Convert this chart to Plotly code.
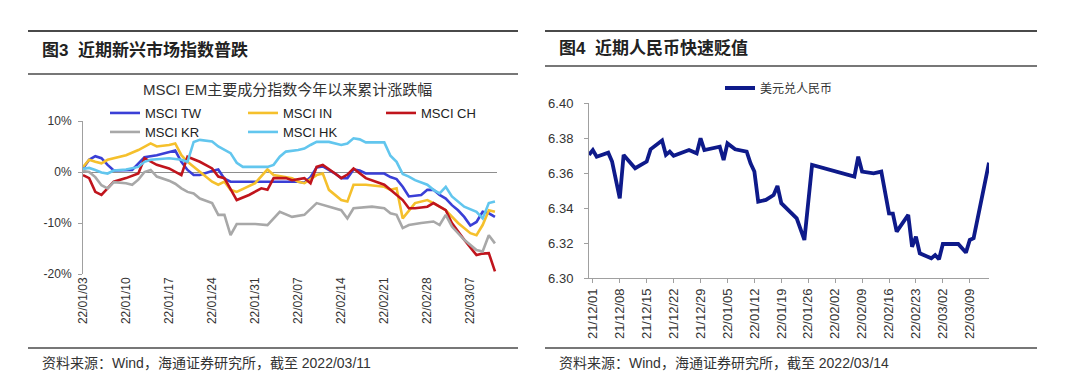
import plotly.graph_objects as go

# ---------------- Figure 3: MSCI EM component indices, YTD cumulative change (%) ----------------
TW_DATES = ["01-03", "01-04", "01-05", "01-06", "01-07", "01-08", "01-11", "01-12", "01-13", "01-15",
            "01-17", "01-18", "01-19", "01-20", "01-21", "01-22", "01-24", "01-25", "01-26", "01-27",
            "02-06", "02-07", "02-08", "02-09", "02-10", "02-11", "02-13", "02-14", "02-15", "02-16",
            "02-17", "02-18", "02-21", "02-22", "02-23", "02-24", "02-25", "02-27", "02-28", "03-01",
            "03-02", "03-03", "03-04", "03-05", "03-06", "03-07", "03-08", "03-09", "03-10", "03-11"]
TW_VALUES = [0.7, 2.4, 3.1, 2.7, 1.4, 0.3, 0.4, 1.7, 2.9, 3.3,
             3.8, 4.2, 2.0, 0.4, -0.6, -0.6, 0.2, 0.5, -1.3, -1.9,
             -1.9, -1.9, -2.1, -1.0, 0.9, 1.1, -0.3, -1.2, -1.2, 0.5,
             0.3, -0.3, -0.3, -1.0, -1.4, -2.9, -4.8, -4.5, -3.5, -3.5,
             -4.5, -5.2, -6.5, -7.5, -8.8, -10.5, -9.8, -7.8, -8.1, -8.8]

IN_DATES = ["01-03", "01-04", "01-05", "01-06", "01-07", "01-10", "01-12", "01-14", "01-15", "01-17",
            "01-18", "01-19", "01-20", "01-21", "01-22", "01-24", "01-25", "01-26", "01-27", "01-28",
            "01-31", "02-02", "02-03", "02-06", "02-07", "02-08", "02-10", "02-11", "02-12", "02-14",
            "02-15", "02-16", "02-18", "02-21", "02-22", "02-23", "02-24", "02-25", "02-26", "02-28",
            "03-01", "03-03", "03-05", "03-07", "03-08", "03-09", "03-10", "03-11"]
IN_VALUES = [1.0, 2.4, 2.0, 1.7, 2.4, 3.3, 4.3, 5.6, 5.0, 5.3,
             5.6, 3.3, 2.0, 1.0, 0.1, -1.9, -2.5, -1.9, -3.5, -3.9,
             -2.2, 0.5, -0.6, -1.2, -1.9, -2.2, -0.6, -0.3, -3.5, -5.5,
             -5.8, -2.5, -2.5, -2.9, -3.5, -3.2, -9.1, -7.5, -6.1, -5.5,
             -6.1, -7.5, -10.0, -12.0, -12.4, -10.4, -7.5, -7.8]

CH_DATES = ["01-03", "01-04", "01-05", "01-06", "01-07", "01-08", "01-10", "01-11", "01-12", "01-13",
            "01-14", "01-15", "01-17", "01-18", "01-19", "01-20", "01-22", "01-24", "01-25", "01-26",
            "01-27", "01-28", "01-30", "02-01", "02-02", "02-03", "02-05", "02-06", "02-08", "02-09",
            "02-10", "02-11", "02-13", "02-14", "02-15", "02-16", "02-18", "02-21", "02-22", "02-23",
            "02-24", "02-25", "02-26", "02-28", "03-01", "03-03", "03-04", "03-06", "03-08", "03-09",
            "03-10", "03-11"]
CH_VALUES = [-0.6, -1.2, -3.9, -4.5, -3.2, -1.9, -1.2, -0.8, -0.3, 2.7,
             2.0, 1.4, 0.7, 0.1, -0.6, 3.0, 2.0, 0.7, -0.9, -1.2,
             -3.5, -5.5, -4.5, -3.2, -3.5, -1.2, -1.2, -1.6, -1.2, -2.2,
             1.0, 1.4, -0.3, -1.2, -0.5, 0.7, -1.2, -2.5, -3.5, -4.5,
             -5.5, -7.1, -7.1, -6.8, -6.1, -7.5, -10.0, -13.3, -16.3, -16.0,
             -15.9, -19.5]

KR_DATES = ["01-03", "01-04", "01-05", "01-06", "01-07", "01-08", "01-10", "01-11", "01-12", "01-13",
            "01-14", "01-15", "01-17", "01-18", "01-19", "01-20", "01-21", "01-22", "01-24", "01-25",
            "01-26", "01-27", "01-28", "01-31", "02-02", "02-03", "02-04", "02-06", "02-08", "02-10",
            "02-12", "02-14", "02-15", "02-16", "02-19", "02-21", "02-22", "02-23", "02-24", "02-25",
            "02-27", "03-01", "03-02", "03-03", "03-04", "03-06", "03-08", "03-09", "03-10", "03-11"]
KR_VALUES = [0.2, 0.0, -1.0, -2.6, -3.2, -2.0, -2.2, -2.5, -1.5, 0.0,
             0.4, -0.9, -1.7, -2.3, -3.2, -3.9, -4.2, -5.2, -6.1, -8.4,
             -8.4, -12.4, -10.2, -10.2, -10.4, -9.0, -7.8, -8.8, -8.4, -6.1,
             -6.8, -7.5, -9.1, -7.1, -6.8, -7.1, -8.1, -8.4, -11.0, -10.4,
             -10.0, -9.7, -10.4, -8.4, -10.7, -13.3, -15.3, -15.6, -12.4, -14.0]

HK_DATES = ["01-03", "01-04", "01-05", "01-06", "01-07", "01-08", "01-10", "01-11", "01-12", "01-13",
            "01-14", "01-17", "01-18", "01-19", "01-20", "01-21", "01-22", "01-24", "01-25", "01-26",
            "01-27", "01-28", "01-29", "02-02", "02-03", "02-04", "02-05", "02-07", "02-08", "02-09",
            "02-10", "02-12", "02-14", "02-15", "02-16", "02-17", "02-18", "02-21", "02-22", "02-23",
            "02-24", "02-25", "02-26", "02-28", "03-01", "03-02", "03-03", "03-04", "03-06", "03-08",
            "03-09", "03-10", "03-11"]
HK_VALUES = [0.6, 0.8, 0.4, -0.1, -0.3, 0.3, 0.5, 0.7, 1.0, 2.0,
             2.4, 2.7, 2.6, 2.4, 2.0, 5.9, 6.3, 6.0, 5.0, 4.3,
             3.7, 1.8, 1.0, 1.0, 1.4, 3.0, 4.0, 4.3, 4.6, 5.3,
             5.9, 5.9, 5.3, 5.6, 6.6, 6.4, 5.8, 5.8, 3.2, 2.0,
             -0.4, -0.9, -1.6, -2.5, -3.5, -4.2, -2.9, -4.8, -6.8, -7.8,
             -9.1, -6.1, -5.8]

LEFT_Y_TICKS = [-20, -10, 0, 10]
LEFT_Y_LABELS = ["-20%", "-10%", "0%", "10%"]

# ---------------- Figure 4: USD/CNY ----------------
FX_DATES = ["2021-11-30", "2021-12-01", "2021-12-02", "2021-12-05", "2021-12-06", "2021-12-08",
            "2021-12-09", "2021-12-12", "2021-12-15", "2021-12-16", "2021-12-19", "2021-12-20",
            "2021-12-21", "2021-12-22", "2021-12-26", "2021-12-28", "2021-12-29", "2021-12-30",
            "2022-01-03", "2022-01-04", "2022-01-05", "2022-01-07", "2022-01-10", "2022-01-11",
            "2022-01-12", "2022-01-13", "2022-01-15", "2022-01-17", "2022-01-18", "2022-01-19",
            "2022-01-23", "2022-01-24", "2022-01-25", "2022-01-27", "2022-02-07", "2022-02-08",
            "2022-02-09", "2022-02-12", "2022-02-14", "2022-02-16", "2022-02-17", "2022-02-18",
            "2022-02-21", "2022-02-22", "2022-02-23", "2022-02-24", "2022-02-27", "2022-02-28",
            "2022-03-01", "2022-03-02", "2022-03-06", "2022-03-08", "2022-03-09", "2022-03-10",
            "2022-03-14"]
FX_VALUES = [6.3705, 6.3733, 6.3695, 6.3718, 6.3667, 6.3457,
             6.3705, 6.3629, 6.3667, 6.3737, 6.3787, 6.3705,
             6.3724, 6.3700, 6.3733, 6.3714, 6.3800, 6.3733,
             6.3752, 6.3676, 6.3771, 6.3737, 6.3724, 6.3657,
             6.3610, 6.3438, 6.3448, 6.3476, 6.3528, 6.3429,
             6.3343, 6.3276, 6.3219, 6.3648, 6.3581, 6.3695,
             6.3610, 6.3600, 6.3610, 6.3371, 6.3370, 6.3267,
             6.3362, 6.3180, 6.3238, 6.3143, 6.3114, 6.3133,
             6.3109, 6.3196, 6.3196, 6.3147, 6.3219, 6.3229,
             6.3661]

FONT = "Liberation Sans, Arial, Noto Sans CJK SC, sans-serif"
W, H = 1080, 389


def px_x(v):
    return v / W


def px_y(v):
    return 1 - v / H


fig = go.Figure()

series = [
    ("MSCI TW", TW_DATES, TW_VALUES, "#3A3FD6", "legend"),
    ("MSCI IN", IN_DATES, IN_VALUES, "#F5C02C", "legend"),
    ("MSCI CH", CH_DATES, CH_VALUES, "#C0141C", "legend"),
    ("MSCI KR", KR_DATES, KR_VALUES, "#A8A8A8", "legend2"),
    ("MSCI HK", HK_DATES, HK_VALUES, "#62C6EE", "legend2"),
]
for name, dates, vals, color, lg in series:
    fig.add_trace(go.Scatter(
        x=["2022-" + d for d in dates], y=vals, mode="lines", name=name,
        line=dict(color=color, width=2.6, shape="linear"),
        xaxis="x", yaxis="y", legend=lg,
    ))

fig.add_trace(go.Scatter(
    x=FX_DATES, y=FX_VALUES, mode="lines", name="美元兑人民币",
    line=dict(color="#0E1A8A", width=3.8),
    xaxis="x2", yaxis="y2", legend="legend3",
))

WEEK = 7 * 24 * 3600 * 1000
axis_grey = "#A0A0A0"

fig.update_layout(
    width=W, height=H, autosize=False,
    margin=dict(l=0, r=0, t=0, b=0, pad=0),
    paper_bgcolor="white", plot_bgcolor="white",
    font=dict(family=FONT, size=12, color="#333333"),
    xaxis=dict(
        domain=[px_x(83), px_x(497)], anchor="y", type="date", automargin=False,
        range=["2022-01-03", "2022-03-11 08:00"],
        tick0="2022-01-03", dtick=WEEK, tickformat="%y/%m/%d", tickangle=-90,
        showgrid=False, showline=False, zeroline=False, ticks="",
        tickfont=dict(size=12, color="#333333"),
    ),
    yaxis=dict(
        domain=[px_y(274), px_y(121)], anchor="x", automargin=False,
        range=[-20, 10], tickvals=LEFT_Y_TICKS, ticktext=LEFT_Y_LABELS,
        showgrid=False, showline=True, linecolor=axis_grey, linewidth=1,
        ticks="outside", ticklen=4, tickcolor=axis_grey, ticklabelstandoff=4,
        zeroline=True, zerolinecolor="#8E8E8E", zerolinewidth=1,
        tickfont=dict(size=12, color="#333333"),
    ),
    xaxis2=dict(
        domain=[px_x(589), px_x(989)], anchor="y2", type="date", automargin=False,
        range=["2021-11-30", "2022-03-14"],
        tick0="2021-12-01", dtick=WEEK, tickformat="%y/%m/%d", tickangle=-90,
        showgrid=False, showline=True, linecolor=axis_grey, linewidth=1,
        ticks="outside", ticklen=4, tickcolor=axis_grey, zeroline=False,
        tickfont=dict(size=13, color="#333333"),
    ),
    yaxis2=dict(
        domain=[px_y(278.3), px_y(103.3)], anchor="x2", automargin=False,
        range=[6.30, 6.40], dtick=0.02, tickformat=".2f",
        showgrid=False, showline=True, linecolor=axis_grey, linewidth=1,
        ticks="outside", ticklen=4, tickcolor=axis_grey, zeroline=False, ticklabelstandoff=8,
        tickfont=dict(size=13, color="#333333"),
    ),
    legend=dict(
        orientation="h", x=px_x(105), y=px_y(113), xanchor="left", yanchor="middle",
        entrywidth=93, entrywidthmode="pixels", bgcolor="rgba(0,0,0,0)",
        font=dict(size=13, color="#222222"), itemwidth=30, tracegroupgap=0,
    ),
    legend2=dict(
        orientation="h", x=px_x(105), y=px_y(132), xanchor="left", yanchor="middle",
        entrywidth=93, entrywidthmode="pixels", bgcolor="rgba(0,0,0,0)",
        font=dict(size=13, color="#222222"), itemwidth=30, tracegroupgap=0,
    ),
    legend3=dict(
        orientation="h", x=px_x(720), y=px_y(88), xanchor="left", yanchor="middle",
        bgcolor="rgba(0,0,0,0)", font=dict(size=12, color="#333333"), itemwidth=30,
    ),
    showlegend=True,
)

line_col = "#4A4A4A"
shapes = []
for (x0, x1) in [(28, 518), (545, 1037)]:
    shapes.append(dict(type="line", xref="paper", yref="paper", x0=px_x(x0), x1=px_x(x1),
                       y0=px_y(31), y1=px_y(31), line=dict(color=line_col, width=2)))
    shapes.append(dict(type="line", xref="paper", yref="paper", x0=px_x(x0), x1=px_x(x1),
                       y0=px_y(348), y1=px_y(348), line=dict(color=line_col, width=1.5)))
shapes.append(dict(type="line", xref="paper", yref="paper", x0=px_x(28), x1=px_x(518),
                   y0=px_y(74), y1=px_y(74), line=dict(color=line_col, width=1.5)))
shapes.append(dict(type="line", xref="paper", yref="paper", x0=px_x(545), x1=px_x(1037),
                   y0=px_y(66), y1=px_y(66), line=dict(color=line_col, width=1.5)))
fig.update_layout(shapes=shapes)

annotations = [
    dict(text="<b>图3  近期新兴市场指数普跌</b>", x=px_x(40), y=px_y(50), xanchor="left", yanchor="middle",
         font=dict(size=17, color="#222222")),
    dict(text="<b>图4  近期人民币快速贬值</b>", x=px_x(557), y=px_y(48), xanchor="left", yanchor="middle",
         font=dict(size=17, color="#222222")),
    dict(text="MSCI EM主要成分指数今年以来累计涨跌幅", x=px_x(287), y=px_y(89), xanchor="center",
         yanchor="middle", font=dict(size=15, color="#333333")),
    dict(text="资料来源：Wind，海通证券研究所，截至 2022/03/11", x=px_x(40), y=px_y(363),
         xanchor="left", yanchor="middle", font=dict(size=14, color="#333333")),
    dict(text="资料来源：Wind，海通证券研究所，截至 2022/03/14", x=px_x(557), y=px_y(363),
         xanchor="left", yanchor="middle", font=dict(size=14, color="#333333")),
]
for a in annotations:
    a.update(xref="paper", yref="paper", showarrow=False)
fig.update_layout(annotations=annotations)

fig.write_html(
    "out.html",
    config={"responsive": False, "displayModeBar": False},
    post_script="document.body.style.margin='0px';document.body.style.overflow='hidden';",
)
